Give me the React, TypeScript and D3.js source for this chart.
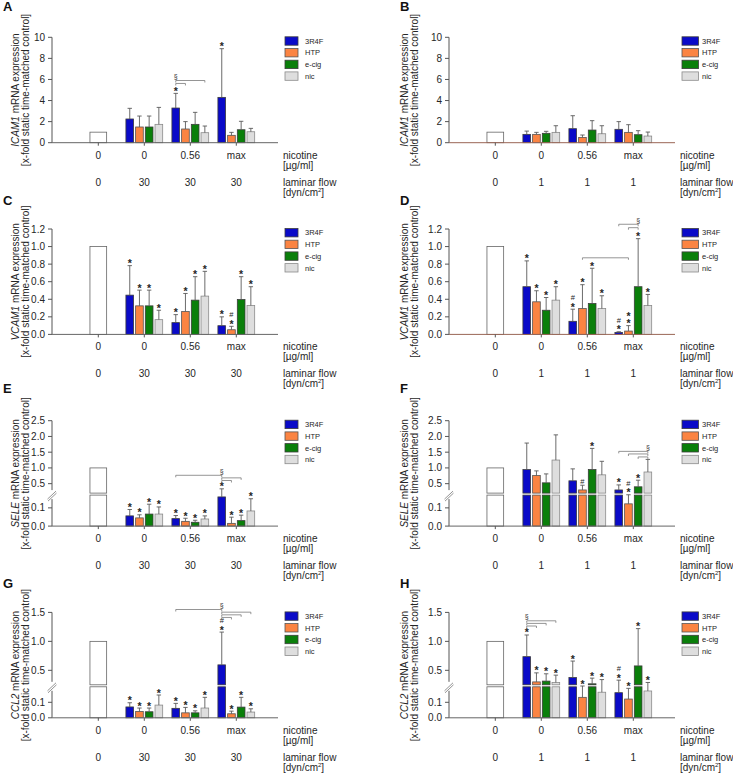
import React from "react";
import * as d3 from "d3";

const FONT = "'Liberation Sans', Arial, Helvetica, sans-serif";

const groups = ["control", "0", "0.56", "max"];
const nicotineLabels = ["0", "0", "0.56", "max"];
const flow30Labels = ["0", "30", "30", "30"];
const flow1Labels = ["0", "1", "1", "1"];
const seriesNames = ["3R4F", "HTP", "e-cig", "nic"];
const seriesColors = ["#0a0ac8", "#fb8442", "#0a7f0a", "#dedede"];
const seriesStroke = ["#3c3c3c", "#555555", "#3c3c3c", "#8a8a8a"];
const controlValue = 1;

// ---- A: ICAM1, 30 dyn/cm2 ----
const icam30Mean = [[2.25, 1.49, 1.49, 1.74], [3.29, 1.30, 1.74, 0.95], [4.30, 0.70, 1.23, 1.04]];
const icam30Sd = [[1.01, 1.04, 1.04, 1.61], [1.39, 0.70, 1.14, 0.63], [4.62, 0.28, 0.80, 0.32]];
const icam30Marks = [[[], [], [], []], [["*"], [], [], []], [["*"], [], [], []]];
const icam30Brackets = [
  { from: [1, 0], to: [1, 3], level: 5.9 },
  { from: [1, 0], to: [1, 1], level: 5.62 },
];

// ---- B: ICAM1, 1 dyn/cm2 ----
const icam1Mean = [[0.79, 0.79, 0.89, 0.98], [1.33, 0.50, 1.20, 0.85], [1.27, 0.98, 0.76, 0.63]];
const icam1Sd = [[0.31, 0.19, 0.19, 0.63], [1.23, 0.23, 0.89, 0.76], [0.73, 0.73, 0.38, 0.38]];
const icam1Marks = [[[], [], [], []], [[], [], [], []], [[], [], [], []]];
const icam1Brackets: any[] = [];

// ---- C: VCAM1, 30 ----
const vcam30Mean = [[0.447, 0.325, 0.325, 0.168], [0.134, 0.26, 0.39, 0.436], [0.099, 0.053, 0.397, 0.329]];
const vcam30Sd = [[0.336, 0.179, 0.179, 0.107], [0.091, 0.206, 0.267, 0.282], [0.101, 0.039, 0.26, 0.214]];
const vcam30Marks = [
  [["*"], ["*"], ["*"], ["*"]],
  [["*"], ["*"], ["*"], ["*"]],
  [["*"], ["*", "#"], ["*"], ["*"]],
];
const vcam30Brackets: any[] = [];

// ---- D: VCAM1, 1 ----
const vcam1Mean = [[0.543, 0.371, 0.275, 0.39], [0.149, 0.294, 0.352, 0.294], [0.023, 0.038, 0.543, 0.329]];
const vcam1Sd = [[0.294, 0.126, 0.145, 0.153], [0.138, 0.272, 0.401, 0.146], [0.007, 0.062, 0.547, 0.126]];
const vcam1Marks = [
  [["*"], ["*"], ["*"], ["*"]],
  [["*", "#"], ["*"], ["*"], ["*"]],
  [["*", "#"], ["*", "*"], ["*"], ["*"]],
];
const vcam1Brackets = [
  { from: [1, 1], to: [2, 1], level: 0.872 },
  { from: [2, 2], to: [2, 0], level: 1.254 },
  { from: [2, 2], to: [2, 1], level: 1.215 },
];

// ---- E: SELE, 30 ----
const sele30Mean = [[0.056, 0.045, 0.066, 0.066], [0.041, 0.026, 0.021, 0.039], [0.16, 0.015, 0.03, 0.083]];
const sele30Sd = [[0.035, 0.017, 0.054, 0.039], [0.017, 0.017, 0.011, 0.017], [0.176, 0.034, 0.03, 0.067]];
const sele30Marks = [
  [["*"], ["*"], ["*"], ["*"]],
  [["*"], ["*"], ["*"], ["*"]],
  [["*"], ["*"], ["*"], ["*"]],
];
const sele30Brackets = [
  { from: [2, 0], to: [1, 0], level: 0.766 },
  { from: [2, 0], to: [2, 2], level: 0.684 },
  { from: [2, 0], to: [2, 1], level: 0.6 },
];

// ---- F: SELE, 1 ----
const sele1Mean = [[0.947, 0.757, 0.526, 1.25], [0.59, 0.30, 0.947, 0.78], [0.30, 0.122, 0.40, 0.87]];
const sele1Sd = [[0.843, 0.149, 0.284, 0.80], [0.38, 0.15, 0.673, 0.43], [0.16, 0.053, 0.21, 0.40]];
const sele1Marks = [
  [[], [], [], []],
  [[], ["#"], ["*"], []],
  [["*"], ["*", "#"], ["*"], []],
];
const sele1Brackets = [
  { from: [2, 3], to: [2, 0], level: 1.526 },
  { from: [2, 3], to: [2, 1], level: 1.444 },
  { from: [2, 3], to: [2, 2], level: 1.349 },
];

// ---- G: CCL2, 30 ----
const ccl30Mean = [[0.07, 0.041, 0.039, 0.082], [0.061, 0.032, 0.032, 0.063], [0.594, 0.026, 0.069, 0.037]];
const ccl30Sd = [[0.027, 0.022, 0.024, 0.065], [0.032, 0.035, 0.013, 0.069], [0.566, 0.017, 0.063, 0.021]];
const ccl30Marks = [
  [["*"], ["*"], ["*"], ["*"]],
  [["*"], ["*"], ["*"], ["*"]],
  [["*", "#"], ["*"], ["*"], ["*"]],
];
const ccl30Brackets = [
  { from: [2, 0], to: [1, 0], level: 1.55 },
  { from: [2, 0], to: [2, 3], level: 1.504 },
  { from: [2, 0], to: [2, 2], level: 1.458 },
  { from: [2, 0], to: [2, 1], level: 1.413 },
];

// ---- H: CCL2, 1 ----
const ccl1Mean = [[0.736, 0.30, 0.314, 0.29], [0.375, 0.132, 0.267, 0.165], [0.162, 0.121, 0.576, 0.173]];
const ccl1Sd = [[0.374, 0.156, 0.126, 0.127], [0.285, 0.088, 0.098, 0.175], [0.168, 0.069, 0.644, 0.117]];
const ccl1Marks = [
  [["*"], ["*"], ["*"], ["*"]],
  [["*"], ["*"], ["*"], ["*"]],
  [["*", "#"], ["*"], ["*"], ["*"]],
];
const ccl1Brackets = [
  { from: [0, 0], to: [0, 3], level: 1.355 },
  { from: [0, 0], to: [0, 2], level: 1.31 },
  { from: [0, 0], to: [0, 1], level: 1.265 },
];

const icamTicks = [0, 2, 4, 6, 8, 10];
const vcamTicks = [0, 0.2, 0.4, 0.6, 0.8, 1.0, 1.2];
const seleTicks = [0, 0.1, 0.5, 1.0, 1.5, 2.0, 2.5];
const cclTicks = [0, 0.1, 0.5, 1.0, 1.5];

const panels = [
  { letter: "A", gene: "ICAM1", col: 0, row: 0, flow: flow30Labels, mean: icam30Mean, sd: icam30Sd, marks: icam30Marks, brackets: icam30Brackets,
    y: { kind: "linear", max: 10, ticks: icamTicks, fmt: "d" }, baseColor: "#666" },
  { letter: "B", gene: "ICAM1", col: 1, row: 0, flow: flow1Labels, mean: icam1Mean, sd: icam1Sd, marks: icam1Marks, brackets: icam1Brackets,
    y: { kind: "linear", max: 10, ticks: icamTicks, fmt: "d" }, baseColor: "#9a6656" },
  { letter: "C", gene: "VCAM1", col: 0, row: 1, flow: flow30Labels, mean: vcam30Mean, sd: vcam30Sd, marks: vcam30Marks, brackets: vcam30Brackets,
    y: { kind: "linear", max: 1.2, ticks: vcamTicks, fmt: ".1f" }, baseColor: "#666" },
  { letter: "D", gene: "VCAM1", col: 1, row: 1, flow: flow1Labels, mean: vcam1Mean, sd: vcam1Sd, marks: vcam1Marks, brackets: vcam1Brackets,
    y: { kind: "linear", max: 1.2, ticks: vcamTicks, fmt: ".1f" }, baseColor: "#9a6656" },
  { letter: "E", gene: "SELE", col: 0, row: 2, flow: flow30Labels, mean: sele30Mean, sd: sele30Sd, marks: sele30Marks, brackets: sele30Brackets,
    y: { kind: "broken", low: [0, 0.17], up: [0.2, 2.5], ticks: seleTicks, fmt: ".1f" }, baseColor: "#666" },
  { letter: "F", gene: "SELE", col: 1, row: 2, flow: flow1Labels, mean: sele1Mean, sd: sele1Sd, marks: sele1Marks, brackets: sele1Brackets,
    y: { kind: "broken", low: [0, 0.17], up: [0.2, 2.5], ticks: seleTicks, fmt: ".1f" }, baseColor: "#666" },
  { letter: "G", gene: "CCL2", col: 0, row: 3, flow: flow30Labels, mean: ccl30Mean, sd: ccl30Sd, marks: ccl30Marks, brackets: ccl30Brackets,
    y: { kind: "broken", low: [0, 0.2], up: [0.25, 1.5], ticks: cclTicks, fmt: ".1f" }, baseColor: "#666" },
  { letter: "H", gene: "CCL2", col: 1, row: 3, flow: flow1Labels, mean: ccl1Mean, sd: ccl1Sd, marks: ccl1Marks, brackets: ccl1Brackets,
    y: { kind: "broken", low: [0, 0.2], up: [0.25, 1.5], ticks: cclTicks, fmt: ".1f" }, baseColor: "#666" },
];

const AXIS = "#555";
const TXT = "#262626";

function makeY(cfg: any, top: number, bottom: number) {
  if (cfg.kind === "linear") {
    const s = d3.scaleLinear().domain([0, cfg.max]).range([bottom, top]);
    return { y: (v: number) => s(v), broken: false, lowTop: 0, upBottom: 0, low: [0, 0], up: [0, 0] };
  }
  const lowTop = bottom - 31;
  const upBottom = bottom - 33;
  const lowS = d3.scaleLinear().domain(cfg.low).range([bottom, lowTop]);
  const upS = d3.scaleLinear().domain(cfg.up).range([upBottom, top]);
  const gapS = d3.scaleLinear().domain([cfg.low[1], cfg.up[0]]).range([lowTop, upBottom]);
  const y = (v: number) => (v <= cfg.low[1] ? lowS(v) : v >= cfg.up[0] ? upS(v) : gapS(v));
  return { y, broken: true, lowTop, upBottom, low: cfg.low, up: cfg.up };
}

function BarRects({ x, w, v, Y, bottom, fill, stroke }: any) {
  if (Y.broken && v > Y.up[0]) {
    return (
      <g>
        <rect x={x} y={Y.lowTop} width={w} height={bottom - Y.lowTop} fill={fill} stroke={stroke} strokeWidth={0.8} />
        <rect x={x} y={Y.y(v)} width={w} height={Y.upBottom - Y.y(v)} fill={fill} stroke={stroke} strokeWidth={0.8} />
      </g>
    );
  }
  return <rect x={x} y={Y.y(v)} width={w} height={bottom - Y.y(v)} fill={fill} stroke={stroke} strokeWidth={0.8} />;
}

function Panel({ p }: any) {
  const ox = p.col === 0 ? 52 : 449;
  const top = 37.3 + p.row * 191.7;
  const bottom = top + 105.4;
  const Y = makeY(p.y, top, bottom);
  const x = d3.scaleBand().domain(groups).range([ox + 23.3, ox + 23.3 + 46 * 4]);
  const cx = (g: string) => (x(g) as number) + x.bandwidth() / 2;
  const inner = d3.scaleBand().domain(seriesNames).range([-19.4, 19.4]);
  const barW = inner.bandwidth() * 0.79;
  const barCenter = (gi: number, si: number) => cx(groups[gi + 1]) + (inner(seriesNames[si]) as number) + inner.bandwidth() / 2;
  const fmt = d3.format(p.y.fmt);
  const axisEnd = ox + 226;
  const midY = (top + bottom) / 2;
  const lab1X = p.col === 0 ? 18.5 : 408;
  const lab2X = p.col === 0 ? 28.5 : 418;
  const legRectW = p.col === 0 ? 13 : 16.5;
  const letterY = [11, 205, 393, 588][p.row];

  const elems: any[] = [];

  const cw = 16.7;
  elems.push(
    <BarRects key="ctrl" x={cx("control") - cw / 2} w={cw} v={controlValue} Y={Y} bottom={bottom} fill="#fff" stroke="#666" />
  );

  p.mean.forEach((row: number[], gi: number) => {
    row.forEach((m: number, si: number) => {
      const c = barCenter(gi, si);
      elems.push(
        <BarRects key={`b${gi}${si}`} x={c - barW / 2} w={barW} v={m} Y={Y} bottom={bottom}
          fill={seriesColors[si]} stroke={seriesStroke[si]} />
      );
    });
  });

  p.mean.forEach((row: number[], gi: number) => {
    row.forEach((m: number, si: number) => {
      const c = barCenter(gi, si);
      const yt = Y.y(m + p.sd[gi][si]);
      const yb = Y.y(m);
      elems.push(
        <g key={`e${gi}${si}`} stroke="#5a5a5a" strokeWidth={0.9}>
          <line x1={c} x2={c} y1={yb} y2={yt} />
          <line x1={c - 2.2} x2={c + 2.2} y1={yt} y2={yt} />
        </g>
      );
      let cy = yt - 4.5;
      p.marks[gi][si].forEach((mk: string, k: number) => {
        const base = mk === "*" ? cy + 6 : cy + 2.8;
        elems.push(
          <text key={`m${gi}${si}${k}`} x={c} y={base} textAnchor="middle"
            fontSize={mk === "*" ? 10.5 : 7.5} fontWeight={mk === "*" ? "bold" : "normal"} fill={TXT} fontFamily={FONT}>
            {mk}
          </text>
        );
        cy -= 7.3;
      });
    });
  });

  if (p.brackets.length) {
    let minY = Infinity;
    let sx = 0;
    p.brackets.forEach((b: any, k: number) => {
      const x1 = barCenter(b.from[0], b.from[1]);
      const x2 = barCenter(b.to[0], b.to[1]);
      const yl = Y.y(b.level);
      if (yl < minY) { minY = yl; sx = x1; }
      elems.push(
        <g key={`br${k}`} stroke="#7a7a7a" strokeWidth={0.8} fill="none">
          <line x1={x1} x2={x2} y1={yl} y2={yl} />
          <line x1={x1} x2={x1} y1={yl} y2={yl + 2} />
          <line x1={x2} x2={x2} y1={yl} y2={yl + 2} />
        </g>
      );
    });
    elems.push(
      <text key="sect" x={sx} y={minY - 1.5} textAnchor="middle" fontSize={7} fill="#333" fontFamily={FONT}>§</text>
    );
  }

  const axisEls: any[] = [];
  if (Y.broken) {
    axisEls.push(<line key="ya1" x1={ox} x2={ox} y1={top} y2={bottom - 36} stroke={AXIS} />);
    axisEls.push(<line key="ya2" x1={ox} x2={ox} y1={bottom - 27} y2={bottom} stroke={AXIS} />);
    axisEls.push(<line key="br1" x1={ox - 4.5} x2={ox + 4} y1={bottom - 27} y2={bottom - 35} stroke="#888" strokeWidth={0.9} />);
    axisEls.push(<line key="br2" x1={ox - 4} x2={ox + 4.5} y1={bottom - 25} y2={bottom - 33} stroke="#888" strokeWidth={0.9} />);
  } else {
    axisEls.push(<line key="ya" x1={ox} x2={ox} y1={top} y2={bottom} stroke={AXIS} />);
  }
  axisEls.push(<line key="xa" x1={ox} x2={axisEnd} y1={bottom} y2={bottom} stroke={p.baseColor} />);
  p.y.ticks.forEach((t: number) => {
    const yy = Y.y(t);
    axisEls.push(<line key={`yt${t}`} x1={ox - 4} x2={ox} y1={yy} y2={yy} stroke={AXIS} />);
    axisEls.push(
      <text key={`ytl${t}`} x={ox - 7} y={yy + 3.5} textAnchor="end" fontSize={10} fill={TXT} fontFamily={FONT}>{fmt(t)}</text>
    );
  });
  groups.forEach((g, i) => {
    const c = cx(g);
    axisEls.push(<line key={`xt${i}`} x1={c} x2={c} y1={bottom} y2={bottom + 3} stroke={AXIS} />);
    axisEls.push(
      <text key={`xn${i}`} x={c} y={bottom + 16} textAnchor="middle" fontSize={10} fill={TXT} fontFamily={FONT}>{nicotineLabels[i]}</text>
    );
    axisEls.push(
      <text key={`xf${i}`} x={c} y={bottom + 43} textAnchor="middle" fontSize={10} fill={TXT} fontFamily={FONT}>{p.flow[i]}</text>
    );
  });
  const lx = ox + 231;
  axisEls.push(<text key="nic1" x={lx} y={bottom + 16} fontSize={10} fill={TXT} fontFamily={FONT}>nicotine</text>);
  axisEls.push(<text key="nic2" x={lx} y={bottom + 26} fontSize={10} fill={TXT} fontFamily={FONT}>[µg/ml]</text>);
  axisEls.push(<text key="lf1" x={lx} y={bottom + 43} fontSize={10} fill={TXT} fontFamily={FONT}>laminar flow</text>);
  axisEls.push(
    <text key="lf2" x={lx} y={bottom + 53} fontSize={10} fill={TXT} fontFamily={FONT}>
      [dyn/cm<tspan fontSize={6} dy={-4}>2</tspan><tspan dy={4}>]</tspan>
    </text>
  );

  axisEls.push(
    <text key="yl1" transform={`translate(${lab1X},${midY}) rotate(-90)`} textAnchor="middle" fontSize={10} fill={TXT} fontFamily={FONT}>
      <tspan fontStyle="italic">{p.gene}</tspan> mRNA expression
    </text>
  );
  axisEls.push(
    <text key="yl2" transform={`translate(${lab2X},${midY}) rotate(-90)`} textAnchor="middle" fontSize={10} fill={TXT} fontFamily={FONT}>
      [x-fold static time-matched control]
    </text>
  );

  seriesNames.forEach((s, i) => {
    const cyy = top + 3.7 + i * 11.7;
    axisEls.push(
      <rect key={`lr${i}`} x={ox + 233} y={cyy - 4.2} width={legRectW} height={8.4} fill={seriesColors[i]} stroke={seriesStroke[i]} strokeWidth={0.8} />
    );
    axisEls.push(
      <text key={`lt${i}`} x={ox + 253} y={cyy + 2.7} fontSize={7.5} fill={TXT} fontFamily={FONT}>{s}</text>
    );
  });

  axisEls.push(
    <text key="letter" x={ox - 49} y={letterY} fontSize={13} fontWeight="bold" fill="#111" fontFamily={FONT}>{p.letter}</text>
  );

  return (
    <g>
      {elems}
      {axisEls}
    </g>
  );
}

export default function App() {
  return (
    <svg width={733} height={774} viewBox="0 0 733 774"
      style={{ position: "absolute", left: 0, top: 0, display: "block", background: "#fff" }}>
      <rect x={0} y={0} width={733} height={774} fill="#fff" />
      {panels.map((p) => (
        <Panel key={p.letter} p={p} />
      ))}
    </svg>
  );
}
